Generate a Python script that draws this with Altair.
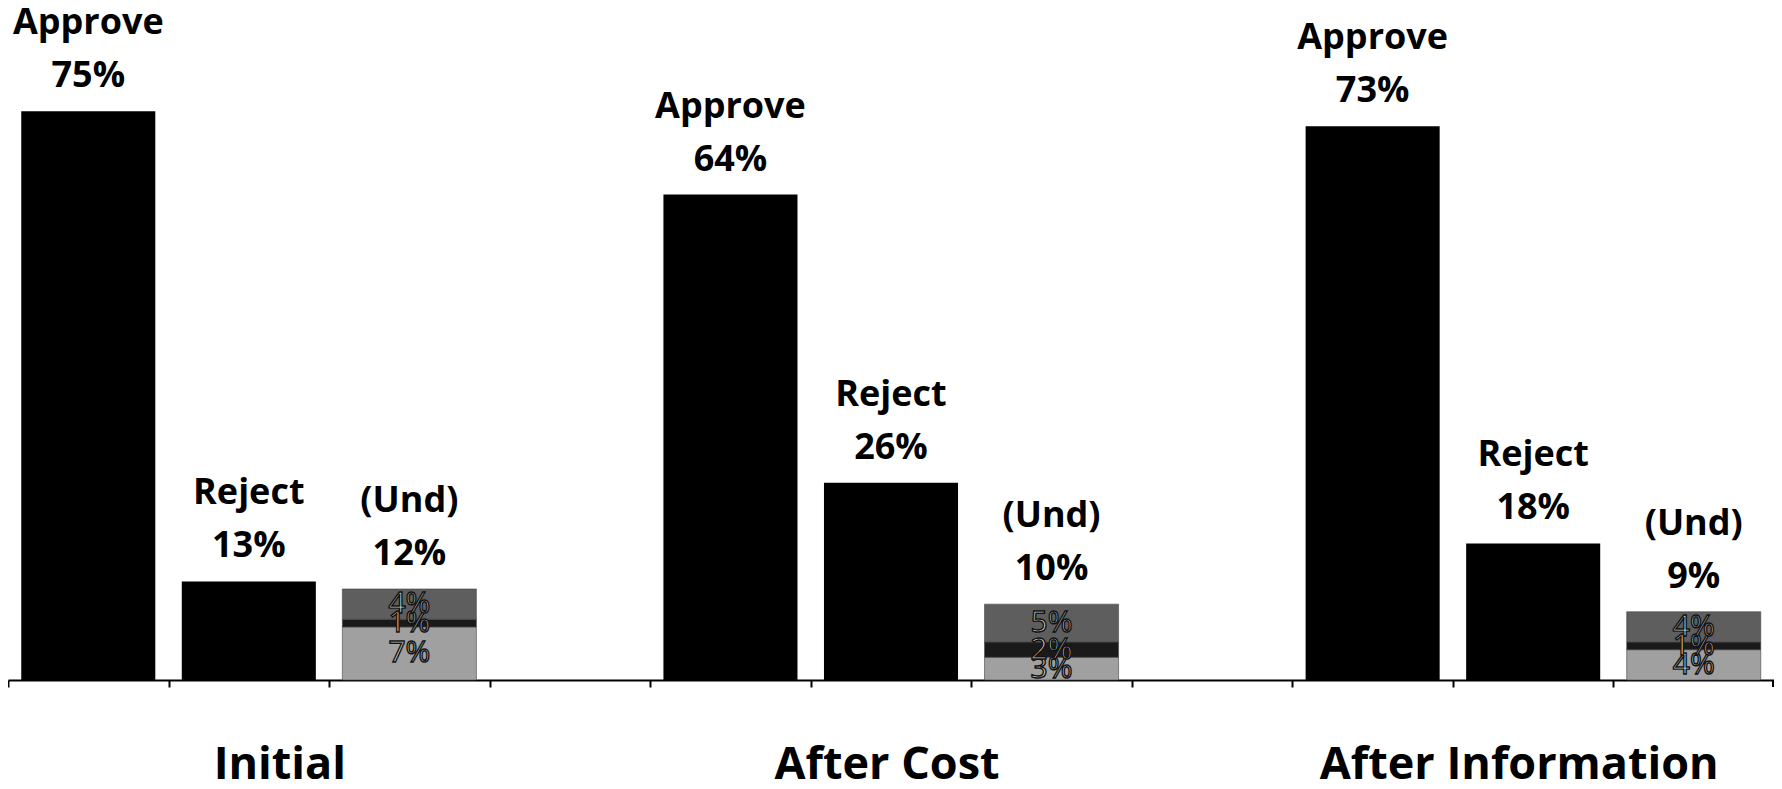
import altair as alt
import pandas as pd

# ---- data ----
groups = ["Initial", "After Cost", "After Information"]
approve = [75, 64, 73]
reject = [13, 26, 18]
und_total = [12, 10, 9]
und_top = [4, 5, 4]
und_mid = [1, 2, 1]
und_low = [7, 3, 4]

# ---- build tables ----
slots = []
for i, g in enumerate(groups):
    slots += [f"{g}|Approve", f"{g}|Reject", f"{g}|Und"]
    if i < len(groups) - 1:
        slots.append(f"gap{i}")

bar_rows, lab_rows, seg_rows = [], [], []
for i, g in enumerate(groups):
    bar_rows.append({"slot": f"{g}|Approve", "value": approve[i]})
    bar_rows.append({"slot": f"{g}|Reject", "value": reject[i]})
    lab_rows.append({"slot": f"{g}|Approve", "value": approve[i], "name": "Approve", "pct": f"{approve[i]}%"})
    lab_rows.append({"slot": f"{g}|Reject", "value": reject[i], "name": "Reject", "pct": f"{reject[i]}%"})
    lab_rows.append({"slot": f"{g}|Und", "value": und_total[i], "name": "(Und)", "pct": f"{und_total[i]}%"})
    y0 = 0
    for seg, v in (("low", und_low[i]), ("mid", und_mid[i]), ("top", und_top[i])):
        seg_rows.append({"slot": f"{g}|Und", "seg": seg, "y0": y0, "y1": y0 + v,
                         "ymid": y0 + v / 2, "label": f"{v}%"})
        y0 += v

bars = pd.DataFrame(bar_rows)
labs = pd.DataFrame(lab_rows)
segs = pd.DataFrame(seg_rows)

W, H = 1766, 672
FONT = "Open Sans"
P_IN = 0.165
STEP = W / len(slots)

x_enc = alt.X(
    "slot:N",
    scale=alt.Scale(domain=slots, paddingInner=P_IN, paddingOuter=P_IN / 2),
    axis=alt.Axis(title=None, labels=False, grid=False, bandPosition=0,
                  tickOffset=-STEP * P_IN / 2,
                  domainColor="black", domainWidth=2, tickColor="black",
                  tickWidth=2, tickSize=7),
)
y_scale = alt.Scale(domain=[0, 88.6], nice=False, zero=True)

bar_layer = alt.Chart(bars).mark_bar(color="black").encode(
    x=x_enc, y=alt.Y("value:Q", scale=y_scale, axis=None)
)

seg_layer = alt.Chart(segs).mark_bar(stroke="#444444", strokeWidth=0.6).encode(
    x=x_enc,
    y=alt.Y("y0:Q", scale=y_scale, axis=None),
    y2="y1:Q",
    color=alt.Color("seg:N", legend=None,
                    scale=alt.Scale(domain=["low", "mid", "top"],
                                    range=["#a0a0a0", "#1a1a1a", "#5e5e5e"])),
)

seg_text = alt.Chart(segs).mark_text(
    font=FONT, fontSize=30, baseline="middle", align="center",
    fill="#dcdcdc", stroke="#111111", strokeWidth=1.4
).encode(x=x_enc, y=alt.Y("ymid:Q", scale=y_scale, axis=None), text="label:N")

name_text = alt.Chart(labs).mark_text(
    font=FONT, fontSize=36, fontWeight="bold", baseline="alphabetic",
    align="center", dy=-77, color="black"
).encode(x=x_enc, y=alt.Y("value:Q", scale=y_scale, axis=None), text="name:N")

pct_text = alt.Chart(labs).mark_text(
    font=FONT, fontSize=36, fontWeight="bold", baseline="alphabetic",
    align="center", dy=-24, color="black"
).encode(x=x_enc, y=alt.Y("value:Q", scale=y_scale, axis=None), text="pct:N")

# closing tick at the right end of the axis
end_tick = alt.Chart(pd.DataFrame({"k": [0]})).mark_rule(color="black", strokeWidth=2).encode(
    x=alt.value(W - 1), y=alt.value(H), y2=alt.value(H + 7)
)

group_shift = [31, -4, -14]
group_layers = []
for g, s in zip(groups, group_shift):
    gdf = pd.DataFrame({"slot": [f"{g}|Reject"], "label": [g]})
    group_layers.append(
        alt.Chart(gdf).mark_text(
            font=FONT, fontSize=45, fontWeight="bold", baseline="alphabetic",
            align="center", dx=s, color="black"
        ).encode(x=x_enc, y=alt.value(H + 99), text="label:N")
    )

chart = alt.layer(bar_layer, seg_layer, seg_text, name_text, pct_text, end_tick,
                  *group_layers).properties(
    width=W, height=H,
    autosize=alt.AutoSizeParams(type="none"),
    padding={"left": 0, "right": 0, "top": 0, "bottom": 101},
    background="white",
).configure_view(stroke=None)

chart.save("out.html", embed_options={"renderer": "svg", "actions": False})
